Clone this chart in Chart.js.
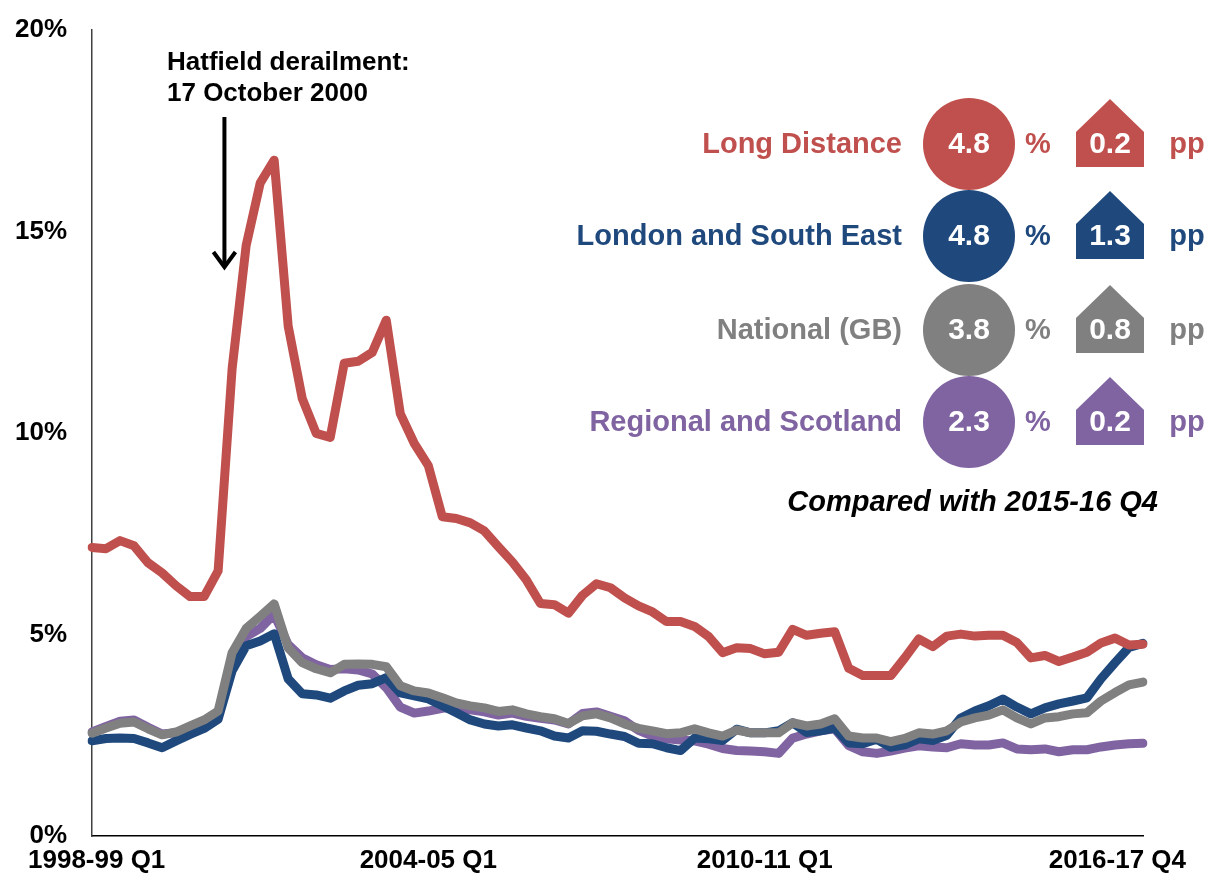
<!DOCTYPE html>
<html>
<head>
<meta charset="utf-8">
<script src="https://cdn.jsdelivr.net/npm/chart.js@4/dist/chart.umd.min.js"></script>
<style>
  html, body { margin: 0; padding: 0; background: #fff; }
  #wrap { width: 1208px; height: 880px; }
</style>
</head>
<body>
<div id="wrap"><canvas id="delayChart" width="1208" height="880"></canvas></div>
<script>
// quarters 1998-99 Q1 .. 2016-17 Q4
const quarters = [];
for (let y = 1998; y <= 2016; y++) {
  const fy = y + "-" + String((y + 1) % 100).padStart(2, "0");
  for (let q = 1; q <= 4; q++) quarters.push(fy + " Q" + q);
}
const tickLabels = ["1998-99 Q1", "2004-05 Q1", "2010-11 Q1", "2016-17 Q4"];
const yTicks = [0, 5, 10, 15, 20];

const sectorNames = ["Long Distance", "London and South East", "National (GB)", "Regional and Scotland"];
const sectorColors = ["#C0504D", "#1F497D", "#808080", "#8064A2"];
const latestValue = ["4.8", "4.8", "3.8", "2.3"];
const changePp = ["0.2", "1.3", "0.8", "0.2"];

const longDistance = [
  7.16, 7.13, 7.33, 7.2, 6.78, 6.53, 6.21, 5.94, 5.94, 6.58,
  11.6, 14.65, 16.2, 16.77, 12.65, 10.86, 9.99, 9.89, 11.73, 11.78,
  12.0, 12.8, 10.48, 9.74, 9.19, 7.92, 7.88, 7.77, 7.57, 7.18,
  6.8, 6.35, 5.77, 5.74, 5.53, 5.97, 6.26, 6.16, 5.91, 5.71,
  5.56, 5.32, 5.32, 5.2, 4.95, 4.55, 4.67, 4.65, 4.52, 4.56,
  5.13, 4.98, 5.03, 5.07, 4.16, 3.98, 3.98, 3.98, 4.42, 4.89,
  4.7, 4.96, 5.01, 4.96, 4.98, 4.98, 4.8, 4.42, 4.48, 4.33,
  4.44, 4.56, 4.79, 4.91, 4.74, 4.76
];
const londonSouthEast = [
  2.36, 2.42, 2.43, 2.42, 2.31, 2.19, 2.36, 2.52, 2.67, 2.9,
  4.1, 4.72, 4.84, 5.02, 3.9, 3.53, 3.5, 3.42, 3.6, 3.74,
  3.78, 3.93, 3.55, 3.48, 3.4, 3.23, 3.06, 2.88, 2.78, 2.73,
  2.76, 2.68, 2.61, 2.48, 2.43, 2.61, 2.6, 2.53, 2.47, 2.3,
  2.29, 2.19, 2.12, 2.43, 2.41, 2.37, 2.65, 2.56, 2.56, 2.61,
  2.81, 2.57, 2.61, 2.68, 2.31, 2.29, 2.4, 2.2, 2.26, 2.41,
  2.37, 2.5, 2.93, 3.1, 3.23, 3.4, 3.2, 3.03, 3.18, 3.28,
  3.35, 3.43, 3.9, 4.3, 4.68, 4.78
];
const national = [
  2.55, 2.68, 2.8, 2.83, 2.66, 2.51, 2.58, 2.73, 2.88, 3.1,
  4.55, 5.15, 5.45, 5.76, 4.67, 4.3, 4.15, 4.05, 4.26, 4.27,
  4.26, 4.2, 3.73, 3.6, 3.55, 3.43, 3.3, 3.23, 3.18, 3.09,
  3.13, 3.03, 2.96, 2.91, 2.79, 2.98, 3.03, 2.93, 2.78, 2.67,
  2.61, 2.54, 2.56, 2.66, 2.56, 2.48, 2.63, 2.56, 2.56, 2.56,
  2.81, 2.73, 2.78, 2.91, 2.48, 2.43, 2.43, 2.34, 2.42, 2.56,
  2.53, 2.61, 2.83, 2.93, 3.0, 3.13, 2.93, 2.78, 2.93, 2.96,
  3.03, 3.06, 3.35, 3.56, 3.75, 3.82
];
const regionalScotland = [
  2.58, 2.72, 2.85, 2.88, 2.7, 2.53, 2.56, 2.7, 2.85, 3.05,
  4.35, 4.95, 5.15, 5.5, 4.75, 4.42, 4.25, 4.13, 4.15, 4.12,
  4.02, 3.68, 3.2, 3.05, 3.1, 3.17, 3.2, 3.13, 3.08, 3.0,
  3.05, 2.97, 2.92, 2.88, 2.78, 3.04, 3.08, 2.97, 2.86, 2.62,
  2.48, 2.41, 2.38, 2.36, 2.28, 2.17, 2.12, 2.11, 2.09, 2.05,
  2.43, 2.53, 2.61, 2.66, 2.24, 2.09, 2.05, 2.11, 2.18, 2.24,
  2.21, 2.19, 2.29, 2.26, 2.26, 2.31, 2.16, 2.14, 2.16, 2.09,
  2.14, 2.14, 2.21, 2.26, 2.29, 2.3
];

const FONT = "'Liberation Sans', Arial, sans-serif";

// draws x labels, Hatfield note and the right-hand key
const notesPlugin = {
  id: "notes",
  afterDraw(chart) {
    const ctx = chart.ctx;
    const xs = chart.scales.x;
    ctx.save();

    // x axis labels
    ctx.fillStyle = "#000";
    ctx.font = "bold 26px " + FONT;
    ctx.textAlign = "center";
    ctx.textBaseline = "middle";
    tickLabels.forEach((lab) => {
      let x = xs.getPixelForValue(quarters.indexOf(lab));
      const w = ctx.measureText(lab).width;
      if (x - w / 2 < 28) x = 28 + w / 2;
      if (x + w / 2 > chart.width - 22) x = chart.width - 22 - w / 2;
      ctx.fillText(lab, x, 861);
    });

    // Hatfield annotation
    ctx.textAlign = "left";
    ctx.font = "bold 26px " + FONT;
    ctx.fillText("Hatfield derailment:", 167, 63);
    ctx.fillText("17 October 2000", 167, 94);
    const ax = xs.getPixelForValue(9.45);
    ctx.strokeStyle = "#000";
    ctx.lineWidth = 4;
    ctx.lineCap = "butt";
    ctx.beginPath();
    ctx.moveTo(ax, 117);
    ctx.lineTo(ax, 266);
    ctx.stroke();
    ctx.lineJoin = "miter";
    ctx.beginPath();
    ctx.moveTo(ax - 11, 252);
    ctx.lineTo(ax, 267);
    ctx.lineTo(ax + 11, 252);
    ctx.stroke();

    // key on the right
    const rows = [144, 236, 330, 422];
    rows.forEach((cy, i) => {
      const col = sectorColors[i];
      ctx.fillStyle = col;
      ctx.font = "bold 29px " + FONT;
      ctx.textAlign = "right";
      ctx.fillText(sectorNames[i], 902, cy + 1);

      ctx.beginPath();
      ctx.arc(969, cy, 46, 0, Math.PI * 2);
      ctx.fill();

      ctx.textAlign = "center";
      ctx.fillText("%", 1038, cy + 1);
      ctx.fillText("pp", 1187, cy + 1);

      // house-shaped box for the change
      ctx.beginPath();
      ctx.moveTo(1110, cy - 45);
      ctx.lineTo(1144, cy - 12);
      ctx.lineTo(1144, cy + 23);
      ctx.lineTo(1076, cy + 23);
      ctx.lineTo(1076, cy - 12);
      ctx.closePath();
      ctx.fill();

      ctx.fillStyle = "#fff";
      ctx.font = "bold 30px " + FONT;
      ctx.fillText(latestValue[i], 969, cy + 1);
      ctx.fillText(changePp[i], 1110, cy + 1);
    });

    ctx.fillStyle = "#000";
    ctx.textAlign = "right";
    ctx.font = "italic bold 29px " + FONT;
    ctx.fillText("Compared with 2015-16 Q4", 1158, 503);

    ctx.restore();
  },
};

function makeLine(label, data, color, order) {
  return {
    label: label,
    data: data,
    borderColor: color,
    backgroundColor: color,
    borderWidth: 9,
    pointRadius: 0,
    tension: 0,
    borderJoinStyle: "round",
    borderCapStyle: "round",
    order: order,
  };
}

const ctx = document.getElementById("delayChart").getContext("2d");
new Chart(ctx, {
  type: "line",
  data: {
    labels: quarters,
    datasets: [
      makeLine(sectorNames[0], longDistance, sectorColors[0], 0),
      makeLine(sectorNames[2], national, sectorColors[2], 1),
      makeLine(sectorNames[1], londonSouthEast, sectorColors[1], 2),
      makeLine(sectorNames[3], regionalScotland, sectorColors[3], 3),
    ],
  },
  options: {
    responsive: false,
    animation: false,
    layout: { padding: { top: 30, right: 65, bottom: 44, left: 0 } },
    plugins: {
      legend: { display: false },
      tooltip: { enabled: false },
    },
    scales: {
      x: {
        type: "category",
        offset: false,
        grid: { display: false, drawTicks: false },
        border: { display: true, color: "#000", width: 1.5 },
        ticks: { display: false },
      },
      y: {
        min: 0,
        max: 20,
        afterBuildTicks: (scale) => {
          scale.ticks = yTicks.map((v) => ({ value: v }));
        },
        afterFit: (scale) => {
          scale.width = 92;
          scale.paddingTop = 0;
          scale.paddingBottom = 0;
        },
        grid: { display: false, drawTicks: false },
        border: { display: true, color: "#404040", width: 1.5 },
        ticks: {
          padding: 25,
          color: "#000",
          font: { family: FONT, size: 26, weight: "bold" },
          callback: (v) => v + "%",
        },
      },
    },
  },
  plugins: [notesPlugin],
});
</script>
</body>
</html>
